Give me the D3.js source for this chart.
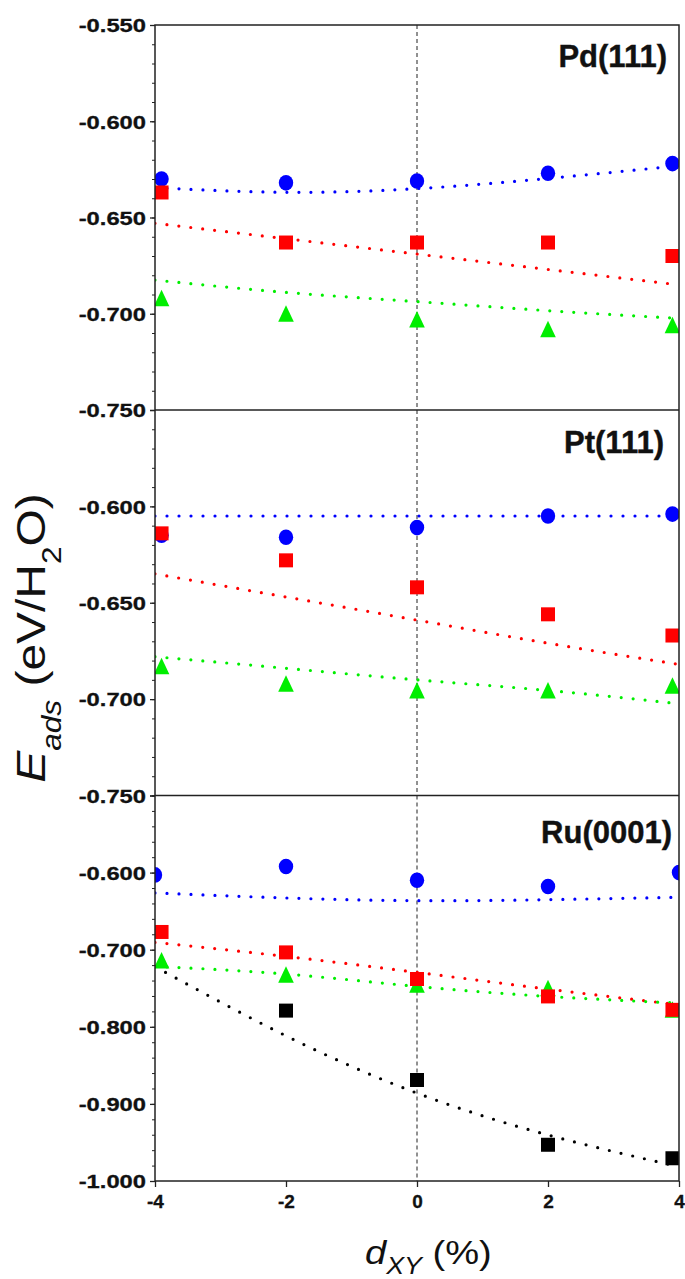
<!DOCTYPE html>
<html>
<head>
<meta charset="utf-8">
<script src="https://cdn.jsdelivr.net/npm/d3@7"></script>
<style>
body { margin: 0; background: #fff; }
svg text { font-family: "Liberation Sans", Arial, sans-serif; fill: #111; }
</style>
</head>
<body>
<div id="chart"></div>
<script>
// strain (%) positions
var xTicks = [-4, -2, 0, 2, 4];
var xData = [-3.9, -2, 0, 2, 3.9];
var xFit = [-4, -2, 0, 2, 4];
var xRuCircle = [-4, -2, 0, 2, 4];
var xRuBlack = [-2, 0, 2, 3.9];

var panelNames = ["Pd(111)", "Pt(111)", "Ru(0001)"];

// Pd(111)
var pdCircle = [-0.630, -0.632, -0.631, -0.627, -0.622];
var pdSquare = [-0.637, -0.663, -0.663, -0.663, -0.670];
var pdTriangle = [-0.692, -0.700, -0.703, -0.708, -0.706];
var pdCircleFit = [-0.6345, -0.6369, -0.6350, -0.6297, -0.6231];
var pdSquareFit = [-0.653, -0.661, -0.669, -0.677, -0.685];
var pdTriangleFit = [-0.6825, -0.6889, -0.6937, -0.6984, -0.7024];

// Pt(111)
var ptCircle = [-0.615, -0.616, -0.611, -0.605, -0.604];
var ptSquare = [-0.614, -0.628, -0.642, -0.656, -0.667];
var ptTriangle = [-0.683, -0.692, -0.6955, -0.6955, -0.693];
var ptCircleFit = [-0.605, -0.605, -0.605, -0.605, -0.605];
var ptSquareFit = [-0.635, -0.647, -0.659, -0.671, -0.682];
var ptTriangleFit = [-0.678, -0.684, -0.690, -0.6955, -0.7024];

// Ru(0001)
var ruCircle = [-0.603, -0.592, -0.610, -0.618, -0.600];
var ruSquare = [-0.677, -0.7035, -0.738, -0.7606, -0.778];
var ruTriangle = [-0.714, -0.7325, -0.7455, -0.750, -0.778];
var ruBlack = [-0.779, -0.869, -0.953, -0.9705];
var ruCircleFit = [-0.6264, -0.6329, -0.6364, -0.6351, -0.6320];
var ruSquareFit = [-0.6905, -0.7087, -0.7294, -0.7511, -0.7714];
var ruTriangleFit = [-0.7216, -0.7316, -0.7476, -0.7606, -0.7693];
var ruBlackFit = [-0.722, -0.8117, -0.886, -0.9403, -0.9814];

var blue = "#0000ff", red = "#ff0000", green = "#00ee00", black = "#000000";

var width = 685, height = 1279;
var left = 155, right = 679;
var panelTop = [25, 410, 795.5], panelBottom = [410, 795.5, 1181];
var yDomains = [[-0.75, -0.55], [-0.75, -0.55], [-1.0, -0.5]];
var majorStep = [0.05, 0.05, 0.1], minorStep = [0.01, 0.01, 0.02];
var labelRight = [667, 664, 672], labelBase = [67, 453, 843];

var panels = [
  { fits: [[pdCircleFit, blue], [pdSquareFit, red], [pdTriangleFit, green]],
    marks: [[xData, pdCircle, "circle", blue], [xData, pdTriangle, "triangle", green], [xData, pdSquare, "square", red]] },
  { fits: [[ptCircleFit, blue], [ptSquareFit, red], [ptTriangleFit, green]],
    marks: [[xData, ptCircle, "circle", blue], [xData, ptTriangle, "triangle", green], [xData, ptSquare, "square", red]] },
  { fits: [[ruCircleFit, blue], [ruSquareFit, red], [ruTriangleFit, green], [ruBlackFit, black]],
    marks: [[xRuCircle, ruCircle, "circle", blue], [xRuBlack, ruBlack, "square", black], [xData, ruTriangle, "triangle", green], [xData, ruSquare, "square", red]] }
];

var svg = d3.select("#chart").append("svg")
    .attr("width", width)
    .attr("height", height);

var x = d3.scaleLinear().domain([-4, 4]).range([left, right]);

function steps(lo, hi, step) {
  var n = Math.round((hi - lo) / step), out = [];
  for (var i = 0; i <= n; i++) out.push(+(lo + i * step).toFixed(4));
  return out;
}

panels.forEach(function(p, k) {
  var y = d3.scaleLinear().domain(yDomains[k]).range([panelBottom[k], panelTop[k]]);
  var g = svg.append("g");

  svg.append("clipPath").attr("id", "clip" + k)
    .append("rect")
      .attr("x", left).attr("y", panelTop[k])
      .attr("width", right - left).attr("height", panelBottom[k] - panelTop[k]);

  var plot = g.append("g").attr("clip-path", "url(#clip" + k + ")");

  // dashed line at zero strain
  plot.append("line")
    .attr("x1", x(0)).attr("x2", x(0))
    .attr("y1", panelTop[k]).attr("y2", panelBottom[k])
    .attr("stroke", "#222").attr("stroke-width", 1)
    .attr("stroke-dasharray", "4,3");

  // fitted trends
  p.fits.forEach(function(f) {
    plot.append("path")
      .datum(f[0])
      .attr("fill", "none")
      .attr("stroke", f[1])
      .attr("stroke-width", 3.2)
      .attr("stroke-linecap", "round")
      .attr("stroke-dasharray", "0,12")
      .attr("d", d3.line()
        .x(function(d, i) { return x(xFit[i]); })
        .y(function(d) { return y(d); })
        .curve(d3.curveNatural));
  });

  // data markers
  p.marks.forEach(function(m) {
    var xs = m[0], col = m[3];
    var sel = plot.selectAll(null).data(m[1]).enter();
    if (m[2] == "circle") {
      sel.append("ellipse")
        .attr("cx", function(d, i) { return x(xs[i]); })
        .attr("cy", function(d) { return y(d); })
        .attr("rx", 7.2).attr("ry", 7.8)
        .attr("fill", col);
    } else if (m[2] == "square") {
      sel.append("rect")
        .attr("x", function(d, i) { return x(xs[i]) - 7; })
        .attr("y", function(d) { return y(d) - 7; })
        .attr("width", 14).attr("height", 14)
        .attr("fill", col);
    } else {
      sel.append("path")
        .attr("d", function(d, i) {
          var cx = x(xs[i]), cy = y(d);
          return "M" + (cx - 7.8) + "," + (cy + 8) + "L" + cx + "," + (cy - 8.5) + "L" + (cx + 7.8) + "," + (cy + 8) + "Z";
        })
        .attr("fill", col);
    }
  });

  // left axis: minor then major ticks
  var minor = g.append("g")
    .attr("transform", "translate(" + left + ",0)")
    .call(d3.axisLeft(y).tickValues(steps(yDomains[k][0], yDomains[k][1], minorStep[k])).tickSize(3).tickFormat(""));
  minor.select(".domain").remove();
  minor.selectAll("line").attr("stroke", "#222");

  var major = g.append("g")
    .attr("transform", "translate(" + left + ",0)")
    .call(d3.axisLeft(y)
      .tickValues(steps(yDomains[k][0], yDomains[k][1], majorStep[k]))
      .tickSize(5)
      .tickFormat(function(d) {
        if (k > 0 && d == yDomains[k][1]) return "";
        return d.toFixed(3);
      }));
  major.select(".domain").remove();
  major.selectAll("line").attr("stroke", "#222").attr("stroke-width", 1.3);
  major.selectAll("text")
    .attr("font-size", 19)
    .attr("font-weight", "bold")
    .attr("fill", "#111")
    .attr("stroke", "#111")
    .attr("stroke-width", 0.3)
    .attr("transform", "scale(1.25,1)")
    .attr("x", -9 / 1.25)
    .attr("dy", "0.36em");

  // panel label
  g.append("text")
    .attr("x", labelRight[k])
    .attr("y", labelBase[k])
    .attr("text-anchor", "end")
    .attr("font-size", 31)
    .attr("font-weight", "bold")
    .attr("stroke", "#111")
    .attr("stroke-width", 0.4)
    .text(panelNames[k]);
});

// frame
var frame = svg.append("g").attr("stroke", "#222").attr("stroke-width", 1.5).attr("fill", "none");
frame.append("rect").attr("x", left).attr("y", panelTop[0]).attr("width", right - left).attr("height", panelBottom[2] - panelTop[0]);
[410, 795.5].forEach(function(yy) {
  frame.append("line").attr("x1", left).attr("x2", right).attr("y1", yy).attr("y2", yy);
});

// bottom axis
var xa = svg.append("g")
  .attr("transform", "translate(0," + panelBottom[2] + ")")
  .call(d3.axisBottom(x).tickValues(xTicks).tickSize(6).tickSizeOuter(0).tickPadding(8)
    .tickFormat(function(d) { return String(d); }));
xa.select(".domain").remove();
xa.selectAll("line").attr("stroke", "#222").attr("stroke-width", 1.3);
xa.selectAll("text")
  .attr("font-size", 19)
  .attr("font-weight", "bold")
  .attr("fill", "#111")
  .attr("stroke", "#111")
  .attr("stroke-width", 0.3);

// axis titles
var xt = svg.append("text")
  .attr("transform", "translate(365,1264) scale(1.12,1)")
  .attr("font-size", 34);
xt.append("tspan").attr("font-style", "italic").text("d");
xt.append("tspan").attr("font-style", "italic").attr("font-size", 24).attr("dy", 10).text("XY");
xt.append("tspan").attr("dy", -10).text(" (%)");

var yt = svg.append("text")
  .attr("transform", "translate(45,638) rotate(-90) scale(1.17,1)")
  .attr("text-anchor", "middle")
  .attr("font-size", 41);
yt.append("tspan").attr("font-style", "italic").text("E");
yt.append("tspan").attr("font-style", "italic").attr("font-size", 27).attr("dy", 16).text("ads");
yt.append("tspan").attr("dy", -16).text(" (eV/H");
yt.append("tspan").attr("font-size", 27).attr("dy", 16).text("2");
yt.append("tspan").attr("dy", -16).text("O)");
</script>
</body>
</html>
